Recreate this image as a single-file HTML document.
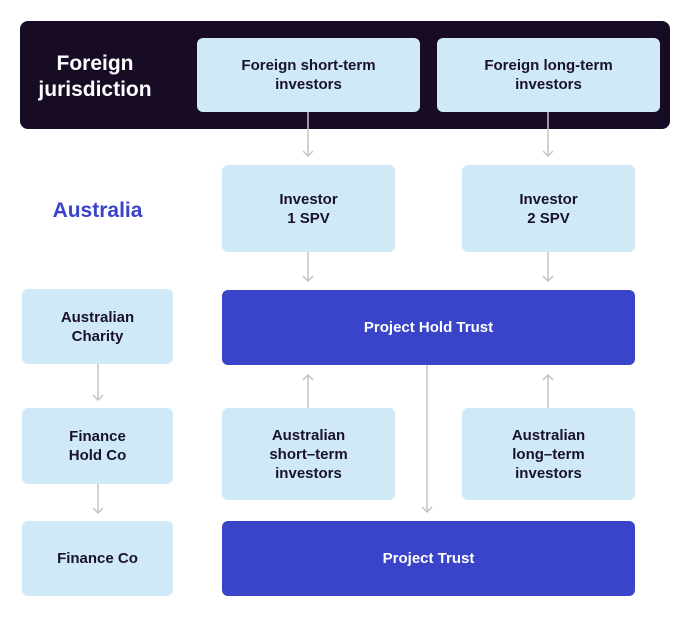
<!DOCTYPE html>
<html><head><style>
body{margin:0;width:689px;height:618px;background:#fff;position:relative;font-family:"Liberation Sans",sans-serif;font-weight:bold;overflow:hidden}
.b{position:absolute;display:flex;align-items:center;justify-content:center;text-align:center;border-radius:6px;font-size:15px;line-height:19px;color:#1a1030}
.l{background:#cfeaf6}
.d{background:#3a44c8;color:#fff}
svg{position:absolute;left:0;top:0}
</style></head><body>
<div class="b" style="left:20px;top:21px;width:650px;height:108px;background:#180b24;border-radius:8px"></div>
<div class="b" style="left:30px;top:50px;width:130px;height:54px;color:#fff;font-size:21px;line-height:26px">Foreign<br>jurisdiction</div>
<div class="b l" style="left:197px;top:38px;width:223px;height:74px">Foreign short-term<br>investors</div>
<div class="b l" style="left:437px;top:38px;width:223px;height:74px">Foreign long-term<br>investors</div>
<div class="b" style="left:30px;top:195px;width:135px;height:30px;color:#3a44c8;font-size:21px">Australia</div>
<div class="b l" style="left:222px;top:165px;width:173px;height:87px">Investor<br>1 SPV</div>
<div class="b l" style="left:462px;top:165px;width:173px;height:87px">Investor<br>2 SPV</div>
<div class="b d" style="left:222px;top:290px;width:413px;height:75px">Project Hold Trust</div>
<div class="b l" style="left:222px;top:408px;width:173px;height:92px">Australian<br>short–term<br>investors</div>
<div class="b l" style="left:462px;top:408px;width:173px;height:92px">Australian<br>long–term<br>investors</div>
<div class="b d" style="left:222px;top:521px;width:413px;height:75px">Project Trust</div>
<div class="b l" style="left:22px;top:289px;width:151px;height:75px">Australian<br>Charity</div>
<div class="b l" style="left:22px;top:408px;width:151px;height:76px">Finance<br>Hold Co</div>
<div class="b l" style="left:22px;top:521px;width:151px;height:75px">Finance Co</div>
<svg width="689" height="618" fill="none" stroke="#c4c4c4" stroke-width="1.5">
<path d="M308 112V156M303 151l5 5 5-5"/>
<path d="M548 112V156M543 151l5 5 5-5"/>
<path d="M308 252V281M303 276l5 5 5-5"/>
<path d="M548 252V281M543 276l5 5 5-5"/>
<path d="M308 408V375M303 380l5-5 5 5"/>
<path d="M548 408V375M543 380l5-5 5 5"/>
<path d="M427 365V512M422 507l5 5 5-5"/>
<path d="M98 364V400M93 395l5 5 5-5"/>
<path d="M98 484V513M93 508l5 5 5-5"/>
</svg>
</body></html>
